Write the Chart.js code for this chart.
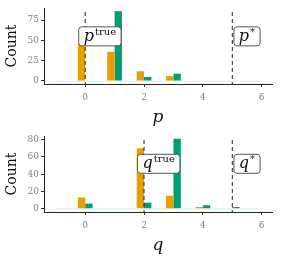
<!DOCTYPE html>
<html>
<head>
    <title>Count by p and q</title>
    <style>
        body {
            margin: 0;
            padding: 0;
            background-color: #FFFFFF;
        }

        .chart-box {
            width: 281px;
            height: 128px;
            position: relative;
        }
    </style>
</head>
<body>
    <div class="chart-box"><canvas id="chartP"></canvas></div>
    <div class="chart-box"><canvas id="chartQ"></canvas></div>

    <script src="https://cdn.jsdelivr.net/npm/chart.js"></script>
    <script>
        // values along x, shared by both panels
        var xValues = [-1, 0, 1, 2, 3, 4, 5, 6];
        var xTicks = [0, 2, 4, 6];

        // top panel (p)
        var pOrange = [0, 46, 36, 12, 6, 0, 0, 0];
        var pGreen = [0, 0, 86, 5, 9, 0, 0, 0];
        var pYTicks = [0, 25, 50, 75];
        var pLines = [0, 5];
        var pLabels = ['true', '*'];
        var pLabelY = 55;

        // bottom panel (q)
        var qOrange = [0, 13, 0, 70, 15, 2, 0, 0];
        var qGreen = [0, 6, 0, 7, 81, 4, 2, 0];
        var qYTicks = [0, 20, 40, 60, 80];
        var qLines = [2, 5];
        var qLabels = ['true', '*'];
        var qLabelY = 52;

        var serif = '"DejaVu Serif", serif';

        // dashed reference lines and labelled boxes
        var markerPlugin = {
            id: 'markers',
            afterDatasetsDraw: function(chart, args, opts) {
                var ctx = chart.ctx;
                var xs = chart.scales.x;
                var ys = chart.scales.y;
                var area = chart.chartArea;
                ctx.save();
                opts.lines.forEach(function(v, i) {
                    var px = xs.getPixelForValue(v);
                    ctx.strokeStyle = '#222';
                    ctx.lineWidth = 1;
                    ctx.setLineDash([4, 3]);
                    ctx.beginPath();
                    ctx.moveTo(px, area.top + 4);
                    ctx.lineTo(px, area.bottom);
                    ctx.stroke();
                    ctx.setLineDash([]);

                    // label box
                    var cx = xs.getPixelForValue(v + 0.5);
                    var cy = ys.getPixelForValue(opts.labelY);
                    var mainFont = 'italic 16px ' + serif;
                    var supFont = '10px ' + serif;
                    ctx.font = mainFont;
                    var w1 = ctx.measureText(opts.letter).width;
                    ctx.font = supFont;
                    var w2 = ctx.measureText(opts.labels[i]).width;
                    var bw = w1 + w2 + 11;
                    var bh = 19;
                    var bx = cx - bw / 2;
                    var by = cy - bh / 2;
                    ctx.fillStyle = '#FFFFFF';
                    ctx.strokeStyle = '#555';
                    ctx.beginPath();
                    ctx.roundRect(bx, by, bw, bh, 3);
                    ctx.fill();
                    ctx.stroke();
                    ctx.fillStyle = '#111';
                    ctx.textBaseline = 'alphabetic';
                    ctx.textAlign = 'left';
                    ctx.font = mainFont;
                    ctx.fillText(opts.letter, bx + 5, by + 14);
                    ctx.font = supFont;
                    ctx.fillText(opts.labels[i], bx + 6 + w1, by + 8);
                });
                ctx.restore();
            }
        };

        function makeChart(id, letter, orange, green, yTicks, yMin, yMax, lines, labels, labelY) {
            var ctx = document.getElementById(id).getContext('2d');
            var orangePts = xValues.map(function(x, i) { return { x: x, y: orange[i] }; });
            var greenPts = xValues.map(function(x, i) { return { x: x, y: green[i] }; });
            var basePts = [{ x: -1, y: 0 }, { x: 6, y: 0 }];
            return new Chart(ctx, {
                type: 'bar',
                data: {
                    datasets: [{
                        data: orangePts,
                        backgroundColor: '#E69F00',
                        barPercentage: 1,
                        categoryPercentage: 0.5
                    }, {
                        data: greenPts,
                        backgroundColor: '#009E73',
                        barPercentage: 1,
                        categoryPercentage: 0.5
                    }, {
                        type: 'line',
                        data: basePts,
                        borderColor: 'rgba(150, 210, 190, 0.35)',
                        borderWidth: 1,
                        pointRadius: 0
                    }]
                },
                options: {
                    responsive: true,
                    maintainAspectRatio: false,
                    animation: false,
                    layout: { padding: { top: 8, right: 9, left: 4, bottom: 0 } },
                    plugins: {
                        legend: { display: false },
                        tooltip: { enabled: false },
                        markers: { lines: lines, labels: labels, labelY: labelY, letter: letter }
                    },
                    scales: {
                        x: {
                            type: 'linear',
                            offset: false,
                            min: -1.4,
                            max: 6.35,
                            afterBuildTicks: function(scale) {
                                scale.ticks = xTicks.map(function(v) { return { value: v }; });
                            },
                            afterFit: function(scale) { scale.height = 44; },
                            grid: { display: true, offset: false, drawOnChartArea: false, drawTicks: true, tickLength: 3, color: '#333' },
                            border: { display: true, color: '#222', width: 1 },
                            ticks: { color: '#808080', font: { family: serif, size: 9 }, padding: 5, maxRotation: 0 },
                            title: {
                                display: true,
                                text: letter,
                                color: '#111',
                                font: { family: serif, size: 17, style: 'italic' },
                                padding: { top: 0, bottom: 0 }
                            }
                        },
                        y: {
                            min: yMin,
                            max: yMax,
                            afterBuildTicks: function(scale) {
                                scale.ticks = yTicks.map(function(v) { return { value: v }; });
                            },
                            afterFit: function(scale) { scale.width = 40; },
                            grid: { display: true, drawOnChartArea: false, drawTicks: true, tickLength: 3, color: '#333' },
                            border: { display: true, color: '#222', width: 1 },
                            ticks: { color: '#808080', font: { family: serif, size: 9 }, padding: 2 },
                            title: {
                                display: true,
                                text: 'Count',
                                color: '#111',
                                font: { family: serif, size: 14 },
                                padding: { top: 0, bottom: 2 }
                            }
                        }
                    }
                },
                plugins: [markerPlugin]
            });
        }

        makeChart('chartP', 'p', pOrange, pGreen, pYTicks, -3.7, 89.9, pLines, pLabels, pLabelY);
        makeChart('chartQ', 'q', qOrange, qGreen, qYTicks, -3.8, 84.2, qLines, qLabels, qLabelY);
    </script>
</body>
</html>
